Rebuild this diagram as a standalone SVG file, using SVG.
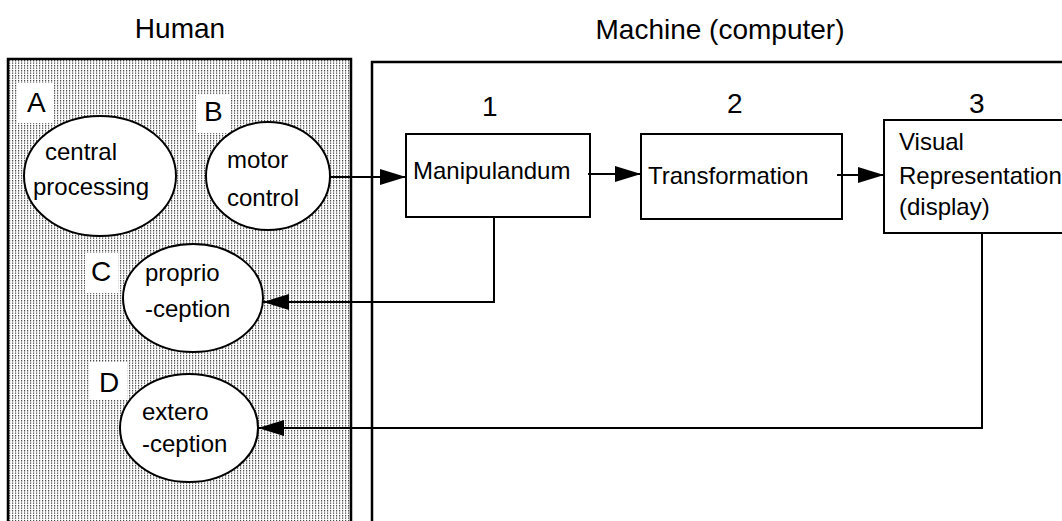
<svg xmlns="http://www.w3.org/2000/svg" width="1062" height="521" viewBox="0 0 1062 521">
<style>
.t{font-family:"Liberation Sans",Arial,sans-serif;fill:#000}
.big{font-size:28px}
.lbl{font-size:24px}
.box{fill:#fff;stroke:#000;stroke-width:2}
.ell{fill:#fff;stroke:#000;stroke-width:2}
.con{fill:none;stroke:#000;stroke-width:2}
.patch{fill:#fff}
</style>
<defs>
<pattern id="dots" x="0" y="0" width="3" height="2.5" patternUnits="userSpaceOnUse">
<rect x="0" y="0" width="1.2" height="1.4" fill="#444"/>
</pattern>
<marker id="ah" markerUnits="userSpaceOnUse" markerWidth="28" markerHeight="18" refX="26" refY="8" orient="auto">
<path d="M0,0 L26,8 L0,16 Z" fill="#000"/>
</marker>
</defs>
<rect width="1062" height="521" fill="#fff"/>
<text class="t big" x="180" y="38" text-anchor="middle">Human</text>
<text class="t big" x="720" y="39" text-anchor="middle">Machine (computer)</text>
<g id="human">
<rect x="8" y="59" width="343" height="480" fill="url(#dots)" stroke="#000" stroke-width="2.5"/>
</g>
<g id="machine">
<rect x="372" y="62" width="720" height="480" fill="#fff" stroke="#000" stroke-width="2.5"/>
</g>
<g id="labelA"><rect class="patch" x="18" y="83" width="35" height="40"/><text class="t big" x="27" y="112">A</text></g>
<g id="labelB"><rect class="patch" x="196" y="95" width="35" height="38"/><text class="t big" x="204" y="121">B</text></g>
<g id="labelC"><rect class="patch" x="85" y="253" width="33" height="40"/><text class="t big" x="91" y="281">C</text></g>
<g id="labelD"><rect class="patch" x="90" y="362" width="37" height="38"/><text class="t big" x="99" y="392">D</text></g>
<g id="central">
<ellipse class="ell" cx="100" cy="176" rx="76" ry="60"/>
<text class="t lbl" x="45" y="160">central</text>
<text class="t lbl" x="33" y="195">processing</text>
</g>
<g id="motor">
<ellipse class="ell" cx="268" cy="176" rx="62" ry="54"/>
<text class="t lbl" x="227" y="168">motor</text>
<text class="t lbl" x="227" y="206">control</text>
</g>
<g id="proprio">
<ellipse class="ell" cx="193" cy="298" rx="70" ry="54"/>
<text class="t lbl" x="145" y="281">proprio</text>
<text class="t lbl" x="145" y="317">-ception</text>
</g>
<g id="extero">
<ellipse class="ell" cx="189" cy="428" rx="69" ry="54"/>
<text class="t lbl" x="142" y="420">extero</text>
<text class="t lbl" x="142" y="452">-ception</text>
</g>
<g id="num"><text class="t big" x="482" y="116">1</text><text class="t big" x="727" y="113">2</text><text class="t big" x="969" y="113">3</text></g>
<g id="manip">
<rect class="box" x="406" y="134" width="184" height="83"/>
<text class="t lbl" x="413" y="179">Manipulandum</text>
</g>
<g id="transf">
<rect class="box" x="641" y="134" width="201" height="85"/>
<text class="t lbl" x="648" y="184">Transformation</text>
</g>
<g id="visual">
<rect class="box" x="884" y="120" width="200" height="113"/>
<text class="t lbl" x="899" y="150">Visual</text>
<text class="t lbl" x="899" y="184">Representation</text>
<text class="t lbl" x="899" y="215">(display)</text>
</g>
<g id="connectors">
<path class="con" d="M330,177 L406,177" marker-end="url(#ah)"/>
<path class="con" d="M588,174 L641,174" marker-end="url(#ah)"/>
<path class="con" d="M837,175 L884,175" marker-end="url(#ah)"/>
<path class="con" d="M494,217 L494,302 L263,302" marker-end="url(#ah)"/>
<path class="con" d="M982,233 L982,428 L258,428" marker-end="url(#ah)"/>
</g>
</svg>
